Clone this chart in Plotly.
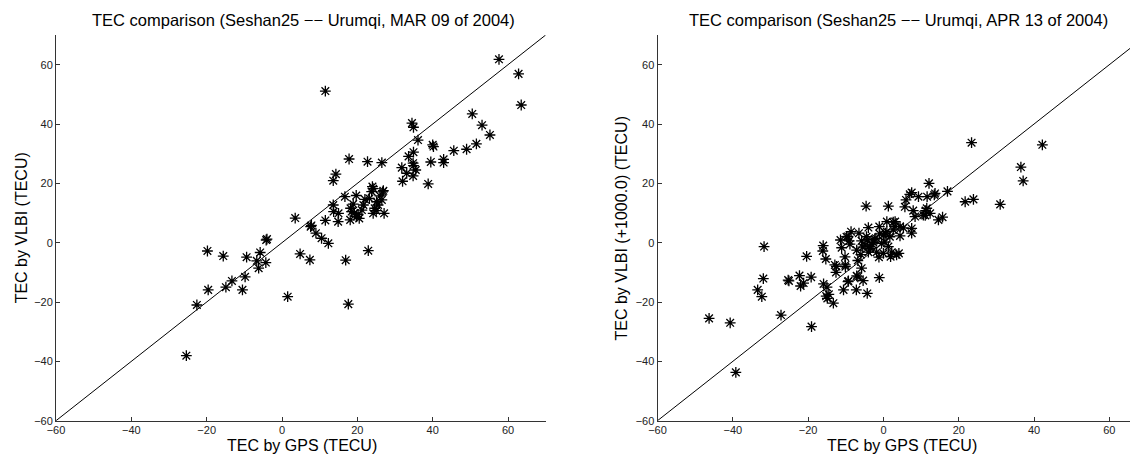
import plotly.graph_objects as go

# ---------------- data: left panel (MAR 09 2004) ----------------
mar_gps = [57.6, 62.8, 63.5, 50.5, 53.1, 55.2,
           34.5, 34.9, 36.1, 40.0, 40.2, 45.6, 49.0, 51.6,
           42.9, 42.9, 39.5, 38.8, 34.9, 33.6, 34.8, 34.9,
           31.8, 35.5, 33.1, 34.8, 32.0,
           17.8, 22.7, 26.5, 14.3, 13.6, 3.5, 11.5, 7.6, 7.8, 9.0, 10.5, 12.3,
           13.6, 13.7, 15.0, 14.9, 16.7, 19.7, 18.9, 18.2, 18.5, 19.2, 19.8, 20.5, 18.1, 20.2,
           22.0, 23.2, 24.0, 23.8, 24.2, 26.9, 26.0, 25.1, 25.5, 24.6, 24.2, 27.1, 21.6, 21.2, 26.5, 26.7, 25.0,
           22.9, 4.8, 7.4, 16.9, 1.5, 17.6, 11.5,
           -4.2, -4.0, -19.8, -15.6, -9.4, -5.8, -6.7, -4.3, -6.2, -9.8, -13.3, -14.9, -19.6, -10.5, -22.6, -25.4]
mar_vlbi = [61.8, 56.9, 46.4, 43.4, 39.6, 36.3,
            40.3, 38.9, 34.6, 33.0, 32.4, 31.0, 31.5, 33.3,
            28.1, 27.0, 27.2, 19.8, 30.5, 29.1, 26.8, 26.0,
            25.3, 24.5, 23.4, 22.5, 20.7,
            28.2, 27.3, 27.0, 23.1, 20.9, 8.3, 7.5, 5.4, 5.8, 3.2, 1.5, -0.2,
            12.7, 10.5, 9.9, 7.1, 15.5, 15.9, 13.0, 11.6, 10.5, 10.0, 8.8, 8.2, 7.7, 9.5,
            14.6, 14.9, 18.9, 17.2, 18.2, 17.5, 15.8, 13.8, 12.7, 11.6, 9.9, 9.9, 12.7, 11.0, 14.4, 17.1, 10.8,
            -2.7, -3.8, -5.8, -5.9, -18.2, -20.7, 51.1,
            0.9, 1.2, -2.8, -4.5, -4.9, -3.3, -6.1, -6.7, -8.6, -11.5, -12.9, -15.0, -15.9, -15.9, -21.0, -38.1]

# ---------------- data: right panel (APR 13 2004) ----------------
apr_gps = [23.4, 42.2, 36.5, 37.1, 31.0, 21.7, 23.9,
           12.1, 17.0, 13.7, 13.5, 11.6, 9.3, 7.5, 7.0, 6.0, 5.7, 7.9, 11.5, 11.2, 10.6, 12.4, 8.4,
           14.6, 15.7, 0.9, 3.1, 4.4, 5.3, 2.6, 7.5, 7.5, 4.4, 0.5, 11.1,
           -4.6, 1.3,
           -11.4, -11.1, -9.8, -8.6, -8.9, -6.5, -4.0, -5.8, -4.5, -4.9, -3.6, -2.7, -7.1, -4.0, -1.8,
           -1.1, 2.6, 3.1, 0.9, 0.0, 1.7, -0.5, 1.3, 2.2, 3.5, 0.0, 4.1, 1.9, -1.2, -3.0, -4.2, -3.5,
           -5.5, -2.0, -1.0, -6.0, -2.3, 0.4,
           -16.0, -16.1, -15.3, -12.9, -12.6, -10.2, -10.1, -9.3, -7.1, -5.4, -1.1, -15.9, -15.0, -15.2,
           -14.5, -14.9, -13.3, -12.5, -10.6, -10.1, -9.4, -9.1, -9.4, -7.2, -6.8, -6.8, -5.8, -4.3,
           -20.4, -31.7, -31.9, -32.3, -33.4, -25.3, -25.1, -22.3, -22.0, -21.2, -19.2,
           -46.3, -40.7, -39.2, -27.2, -19.1]
apr_vlbi = [33.7, 33.0, 25.5, 20.8, 12.9, 13.8, 14.6,
            20.0, 17.3, 16.6, 16.1, 15.5, 15.5, 16.9, 16.3, 14.4, 12.1, 10.8, 11.6, 10.8, 9.3, 9.9, 8.8,
            7.7, 8.6, 7.1, 7.1, 5.4, 5.0, 4.3, 4.8, 3.2, 2.3, 3.2, 9.2,
            12.3, 12.3,
            0.9, -1.7, 2.0, 3.7, -0.5, 3.2, 5.1, 0.6, 2.0, -0.8, -1.3, 0.1, -2.5, -3.2, -3.2,
            5.4, 6.9, 5.4, 3.7, 2.6, 2.0, -0.2, -1.3, -3.2, -4.1, -3.6, -3.6, -4.7, -4.9, -0.5, 1.0, -2.0,
            -1.5, 1.5, 3.0, -4.0, 1.2, 0.2,
            -1.0, -2.8, -5.5, -7.5, -10.0, -4.8, -7.5, -12.9, -11.2, -12.8, -11.8, -13.9, -15.0, -18.0,
            -17.4, -18.8, -20.4, -8.0, -15.9, -8.1, -13.1, 0.6, 2.1, -15.9, -11.5, -6.0, -8.6, -17.1,
            -4.6, -1.3, -12.1, -18.2, -15.9, -12.6, -12.9, -11.1, -14.6, -13.6, -11.6,
            -25.5, -27.0, -43.7, -24.4, -28.3]

# reference line y = x
ref_line = [-60, 70]
tick_vals = [-60, -40, -20, 0, 20, 40, 60]

titles = ["TEC comparison (Seshan25 \u2212\u2212 Urumqi, MAR 09 of 2004)",
          "TEC comparison (Seshan25 \u2212\u2212 Urumqi, APR 13 of 2004)"]
xlabels = ["TEC by GPS (TECU)", "TEC by GPS (TECU)"]
ylabels = ["TEC by VLBI (TECU)", "TEC by VLBI (+1000.0) (TECU)"]

# The page body has an 8px margin, so the figure is drawn 8px smaller and
# every position is measured from the window corner minus that offset.
OFF = 8
W, H = 1138 - OFF, 455 - OFF
FONT = "Liberation Sans, Arial, Helvetica, sans-serif"


def fx(p):
    return (p - OFF) / W


def fy(p):
    return 1 - (p - OFF) / H


fig = go.Figure()

marker = dict(symbol="asterisk-open", size=9, color="black",
              line=dict(color="black", width=1.3))

for i, (gx, gy) in enumerate([(mar_gps, mar_vlbi), (apr_gps, apr_vlbi)]):
    xa = "x" if i == 0 else "x2"
    ya = "y" if i == 0 else "y2"
    fig.add_trace(go.Scatter(x=gx, y=gy, mode="markers", marker=marker,
                             xaxis=xa, yaxis=ya, showlegend=False, hoverinfo="x+y"))
    fig.add_trace(go.Scatter(x=ref_line, y=ref_line, mode="lines",
                             line=dict(color="black", width=1),
                             xaxis=xa, yaxis=ya, showlegend=False, hoverinfo="skip"))

y_dom = [fy(420.7), fy(35)]
ax_common = dict(showline=True, linecolor="#333", linewidth=1, mirror=False,
                 ticks="inside", ticklen=4, tickcolor="#333", tickwidth=1,
                 showgrid=False, zeroline=False, tickvals=tick_vals, automargin=False,
                 tickfont=dict(family=FONT, size=11, color="#222"))
x_extra = dict(ticklabelstandoff=-1)

fig.update_layout(
    width=W, height=H,
    margin=dict(l=0, r=0, t=0, b=0, pad=0, autoexpand=False),
    paper_bgcolor="white", plot_bgcolor="white",
    font=dict(family=FONT, color="black"),
    xaxis=dict(domain=[fx(56), fx(545.7)], range=[-60, 70], anchor="y", **ax_common, **x_extra),
    yaxis=dict(domain=y_dom, range=[-60, 70], anchor="x", **ax_common),
    xaxis2=dict(domain=[fx(657.5), 1.0], range=[-60, 67.6], anchor="y2", **ax_common, **x_extra),
    yaxis2=dict(domain=y_dom, range=[-60, 70], anchor="x2", **ax_common),
)

ann = []
title_x = [303, 898]
xlab_x = [302, 902]
ylab_x = [21.5, 621.7]
for i in range(2):
    ann.append(dict(text=titles[i], x=fx(title_x[i]), y=fy(20), xref="paper", yref="paper",
                    xanchor="center", yanchor="middle", showarrow=False,
                    font=dict(family=FONT, size=16.5, color="black")))
    ann.append(dict(text=xlabels[i], x=fx(xlab_x[i]), y=fy(445.5), xref="paper", yref="paper",
                    xanchor="center", yanchor="middle", showarrow=False,
                    font=dict(family=FONT, size=16, color="black")))
    ann.append(dict(text=ylabels[i], x=fx(ylab_x[i]), y=(y_dom[0] + y_dom[1]) / 2, xref="paper",
                    yref="paper", xanchor="center", yanchor="middle", showarrow=False,
                    textangle=-90, font=dict(family=FONT, size=16, color="black")))
fig.update_layout(annotations=ann)

fig.write_html("out.html")
